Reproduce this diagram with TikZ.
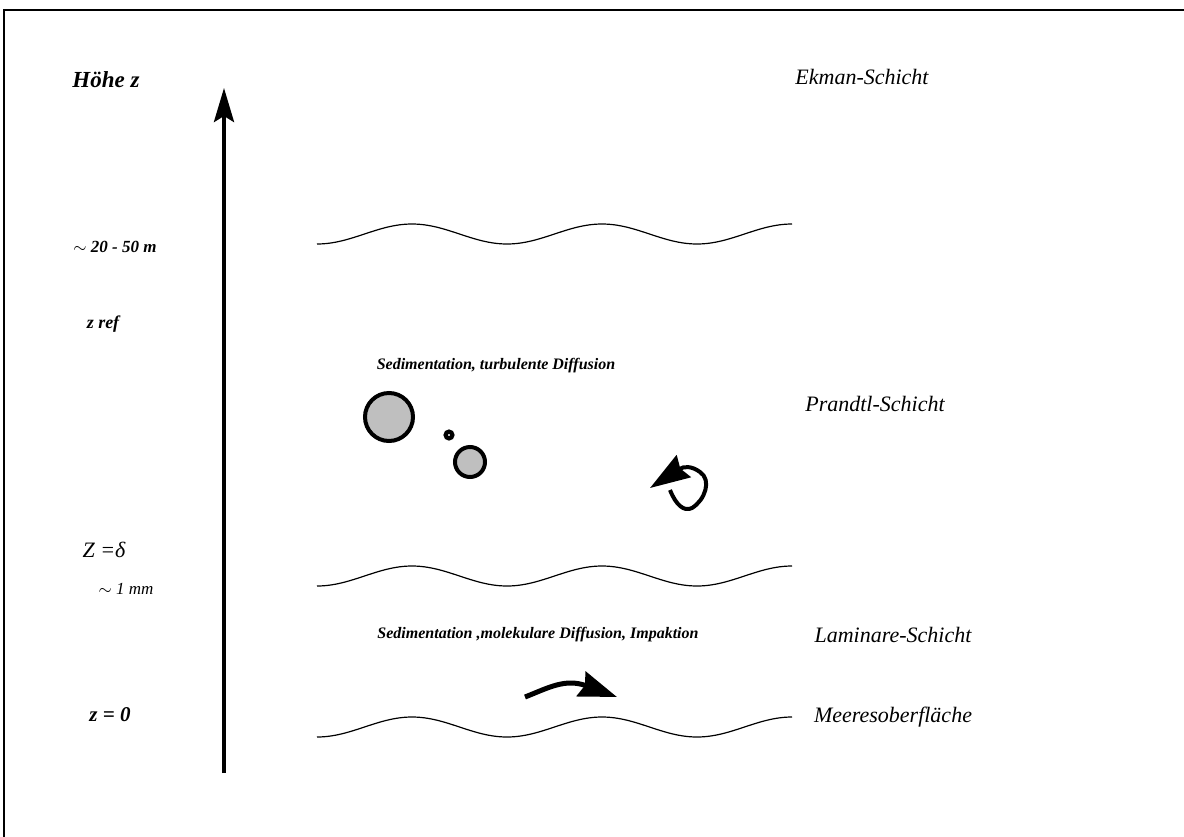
\documentclass[tikz,border=0pt]{standalone}
\usepackage{fontspec}
\setmainfont{Liberation Serif}
\usetikzlibrary{arrows.meta}

\tikzset{
    schicht/.style={font=\fontsize{11}{13}\selectfont\itshape},
    hoehe/.style={font=\fontsize{9.5}{11}\selectfont\bfseries\itshape},
    prozess/.style={font=\fontsize{8}{10}\selectfont\bfseries\itshape},
    welle/.style={line width=0.6pt},
    teilchen/.style={draw,circle,line width=2pt,fill=black!25,inner sep=0pt},
}

\begin{document}
\begin{tikzpicture}[x=0.5pt,y=-0.5pt]
    \useasboundingbox (0,0) rectangle (1184,836);
    % Rahmen
    \draw[line width=1pt] (4,10) rectangle (1200,850);

    % Hoehenachse
    \coordinate (zfuss) at (224,773);
    \coordinate (zspitze) at (224,88);
    \draw[line width=2pt,-{Stealth[length=17pt,width=10pt,inset=3pt]}] (zfuss) -- (zspitze);
    \node[hoehe,font=\fontsize{11.5}{13}\selectfont\bfseries\itshape] (hoehe) at (106,80) {Höhe z};
    \node[hoehe,font=\fontsize{8.5}{10}\selectfont\bfseries\itshape] (ekmanh) at (115,247) {$\sim$ 20 - 50 m};
    \node[hoehe,font=\fontsize{9}{10}\selectfont\bfseries\itshape] (zref) at (103,324) {z ref};
    \node[schicht] (delta) at (104,550) {Z =δ};
    \node[hoehe,font=\fontsize{8.5}{10}\selectfont\itshape] (mm) at (126,589) {$\sim$ 1 mm};
    \node[hoehe,font=\fontsize{10.5}{12}\selectfont\bfseries\itshape] (null) at (110,715) {z = 0};

    % Grenzflaechen
    \foreach \m in {234,576,727}
        \draw[welle] (317,\m+10) cos (364.5,\m) sin (412,\m-10) cos (459.5,\m)
            sin (507,\m+10) cos (554.5,\m) sin (602,\m-10) cos (649.5,\m)
            sin (697,\m+10) cos (744.5,\m) sin (792,\m-10);

    % Schichten
    \node[schicht] (ekman) at (862,77) {Ekman-Schicht};
    \node[schicht] (prandtl) at (875,404) {Prandtl-Schicht};
    \node[schicht] (laminar) at (893,635) {Laminare-Schicht};
    \node[schicht] (meer) at (893,717) {Meeresoberfläche};

    % Prandtl-Schicht
    \node[prozess] (turb) at (496,366) {Sedimentation, turbulente Diffusion};
    \node[teilchen,minimum size=24pt] (gross) at (389,417) {};
    \node[teilchen,minimum size=3.5pt] (klein) at (449,435) {};
    \node[teilchen,minimum size=15pt] (mittel) at (470,462) {};
    \coordinate (wirbel) at (670,490);
    \draw[line width=2pt,-{Stealth[length=20pt,width=13pt,inset=2pt]}] (wirbel)
        .. controls (676,505) and (684,512) .. (692,508)
        .. controls (705,500) and (712,480) .. (700,472)
        .. controls (692,466) and (684,466) .. (650,488);

    % Laminare Schicht
    \node[prozess] (mol) at (538,635) {Sedimentation ,molekulare Diffusion, Impaktion};
    \coordinate (impakt) at (525,697);
    \draw[line width=2.5pt,-{Stealth[length=19pt,width=13pt,inset=2pt]}] (impakt)
        .. controls (548,688) and (565,678) .. (617,697);
\end{tikzpicture}
\end{document}
